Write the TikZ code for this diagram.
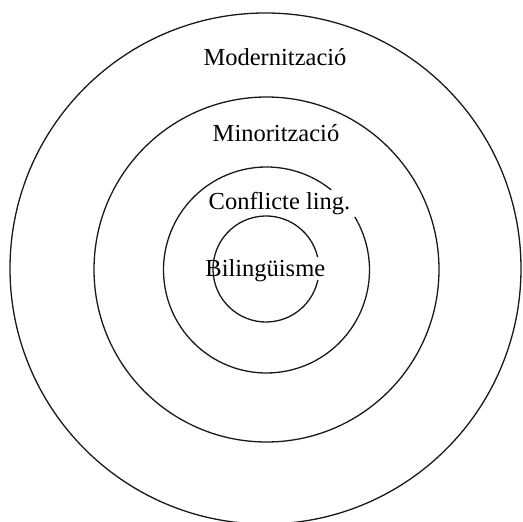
\documentclass[tikz,border=0pt]{standalone}
\usepackage{fontspec}
\setmainfont{Liberation Serif}
\usetikzlibrary{calc}
\begin{document}
\begin{tikzpicture}[x=1pt,y=1pt,
  ring/.style={draw=black!90,line width=1.3pt},
  lab/.style={anchor=base,inner sep=0pt,font=\fontsize{24.5}{28}\selectfont}]
\useasboundingbox (0,0) rectangle (523,522);
% rings
\draw[ring] (265.5,253.5) circle[radius=255.5pt];
\draw[ring] (266.5,252.5) circle[radius=172.5pt];
\coordinate (c3) at (266.5,252);
\draw[ring] ($(c3)+(51:103pt)$) arc[start angle=51,end angle=391,radius=103pt];
\coordinate (c4) at (266,253);
\draw[ring] ($(c4)+(13:53pt)$) arc[start angle=13,end angle=348,radius=53pt];
% labels
\node[lab] (mod) at (275,456) {Modernització};
\node[lab] (min) at (276,380) {Minorització};
\node[lab] (con) at (279.5,312) {Conflicte ling.};
\node[lab] (bil) at (265.3,245) {Bilingüisme};
\end{tikzpicture}
\end{document}
